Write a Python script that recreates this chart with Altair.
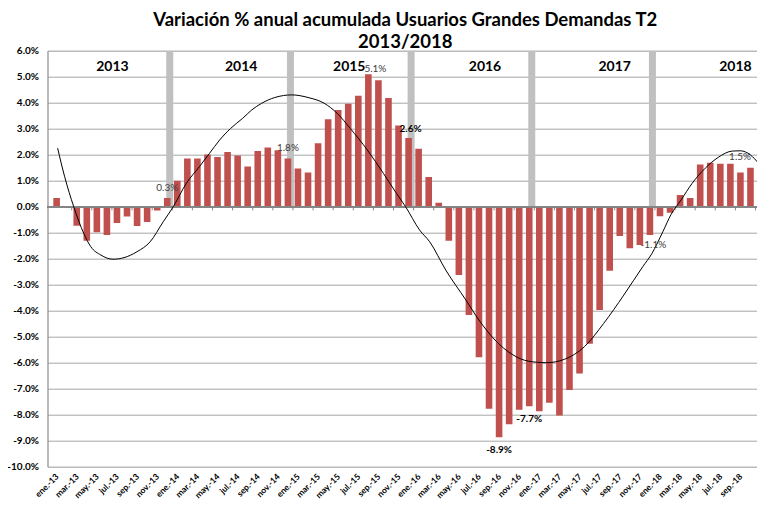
import json
import altair as alt
import pandas as pd

months = ["ene", "feb", "mar", "abr", "may", "jun", "jul", "ago", "sep", "oct", "nov", "dic"]
years = ["13", "14", "15", "16", "17", "18"]
month_labels = [f"{m}.-{y}" for y in years for m in months][:71]

values = [
    0.33, -0.04, -0.73, -1.31, -0.98, -1.09, -0.63, -0.38, -0.74, -0.59, -0.15, 0.33,
    1.00, 1.85, 1.85, 2.01, 1.91, 2.10, 1.97, 1.55, 2.14, 2.28, 2.17, 1.85,
    1.47, 1.32, 2.44, 3.36, 3.72, 3.96, 4.27, 5.09, 4.86, 4.18, 3.12, 2.64,
    2.23, 1.14, 0.15, -1.31, -2.63, -4.17, -5.79, -7.77, -8.87, -8.37, -7.81, -7.68,
    -7.87, -7.54, -8.03, -7.05, -6.42, -5.27, -3.97, -2.46, -1.13, -1.60, -1.47, -1.09,
    -0.37, -0.23, 0.45, 0.33, 1.62, 1.69, 1.65, 1.65, 1.32, 1.50, 1.50,
]

trend_x = [0.1, 0.8, 1.7, 2.7, 3.4, 4.4, 5.6, 6.7, 8.0, 9.3, 10.6, 11.6, 12.9, 14.2,
           15.2, 16.2, 17.3, 18.5, 19.4, 20.4, 21.7, 23.4, 25.0, 26.6, 27.9, 29.2,
           30.9, 32.5, 33.8, 34.7, 36.1, 37.1, 38.7, 40.7, 42.0, 43.6, 45.3, 46.9,
           48.7, 50.5, 52.5, 54.4, 56.4, 58.3, 59.2, 60.3, 61.1, 62.1, 63.2, 64.5,
           65.8, 67.2, 68.0, 69.0, 69.8]
trend_y = [2.25, 1.15, 0.0, -1.03, -1.54, -1.86, -2.02, -1.96, -1.73, -1.35, -0.58, 0.0,
           0.9, 1.54, 2.05, 2.56, 3.01, 3.4, 3.72, 3.98, 4.2, 4.3, 4.2, 3.98, 3.59, 3.01,
           2.18, 1.28, 0.51, 0.0, -0.9, -1.35, -2.44, -3.59, -4.36, -5.13, -5.68, -5.94,
           -6.0, -5.87, -5.38, -4.49, -3.4, -2.3, -1.8, -0.95, -0.3, 0.26, 0.9, 1.48,
           1.9, 2.14, 2.15, 1.99, 1.67]

year_names = ["2013", "2014", "2015", "2016", "2017", "2018"]
year_pos = [5.55, 18.35, 29.1, 42.6, 55.5, 67.5]
year_level = [5.38] * 6

boundary_pos = [11.25, 23.25, 35.25, 47.25, 59.25]
boundary_top = [6.0] * 5

label_idx = [11, 23, 31, 35, 44, 47, 59, 70]
label_text = ["0.3%", "1.8%", "5.1%", "2.6%", "-8.9%", "-7.7%", "-1.1%", "1.5%"]
label_group = ["up", "up", "peak", "upb", "downb", "downb", "down", "end"]

title_lines = ["Variación % anual acumulada Usuarios Grandes Demandas T2", "2013/2018"]

FONT = "Lato"
x_scale = alt.Scale(domain=[-0.41, 69.15], nice=False, zero=False)
y_scale = alt.Scale(domain=[-10, 6], nice=False, zero=False)

df = pd.DataFrame({"i": list(range(len(values))), "v": values, "m": month_labels,
                   "zero": [0.0] * len(values)})
trend_df = pd.DataFrame({"i": trend_x, "v": trend_y})
years_df = pd.DataFrame({"i": year_pos, "v": year_level, "t": year_names})
bound_df = pd.DataFrame({"i": boundary_pos, "v": boundary_top, "base": [0.0] * 5})
lab_df = pd.DataFrame({
    "i": label_idx,
    "v": [values[k] for k in label_idx],
    "t": label_text,
    "g": label_group,
})

x_axis = alt.Axis(
    values=list(range(0, 71, 2)),
    labelExpr=json.dumps(month_labels, ensure_ascii=False) + "[datum.value]",
    labelAngle=-45, labelAlign="right", labelBaseline="middle",
    labelPadding=8, labelFontSize=8.5, labelFontWeight="bold", labelFont=FONT,
    labelColor="#000000", labelOverlap=False, labelFlush=False,
    domain=False, ticks=False, grid=False, title=None,
)
y_axis = alt.Axis(
    values=list(range(-10, 7)),
    labelExpr="(datum.value < 0 ? '-' : '') + format(abs(datum.value), '.1f') + '%'",
    labelFontSize=10, labelFontWeight="bold", labelFont=FONT, labelColor="#000000",
    labelPadding=9, ticks=False, domain=True, domainColor="#868686",
    grid=True, gridColor="#a6a6a6", gridWidth=1, title=None,
)


def X(field):
    return alt.X(field, type="quantitative", scale=x_scale, axis=x_axis, title=None)


def Y(field):
    return alt.Y(field, type="quantitative", scale=y_scale, axis=y_axis, title=None)


bands = alt.Chart(bound_df).mark_bar(size=7, color="#C0C0C0", clip=True).encode(
    x=X("i"), y=Y("v"), y2="base:Q",
)

bars = alt.Chart(df).mark_bar(size=6.6, color="#C0504D", clip=True).encode(
    x=X("i"), y=Y("v"), y2="zero:Q",
)

zero_line = alt.Chart(df).mark_rule(color="#868686", strokeWidth=1).encode(
    y=Y("zero")
)

ticks = (
    alt.Chart(df)
    .transform_filter("datum.i % 2 == 1")
    .transform_calculate(tp="datum.i + 0.5", tb="-0.14")
    .mark_rule(color="#868686", strokeWidth=1, clip=True)
    .encode(x=X("tp"), y=Y("zero"), y2="tb:Q")
)

trend = alt.Chart(trend_df).mark_line(
    color="#000000", strokeWidth=1, interpolate="monotone", clip=True
).encode(x=X("i"), y=Y("v"))

year_text = alt.Chart(years_df).mark_text(
    font=FONT, fontSize=14, fontWeight="bold", color="#000000", baseline="middle"
).encode(x=X("i"), y=Y("v"), text="t:N")


def label_layer(group, dx, dy, weight, color, align="center"):
    return (
        alt.Chart(lab_df)
        .transform_filter(f"datum.g == '{group}'")
        .mark_text(font=FONT, fontSize=10, fontWeight=weight, color=color,
                   baseline="middle", align=align, dx=dx, dy=dy)
        .encode(x=X("i"), y=Y("v"), text="t:N")
    )


labels = [
    label_layer("up", 0, -10.5, "normal", "#404040"),
    label_layer("end", -9.5, -10.5, "normal", "#404040", align="right"),
    label_layer("peak", 7, -5.5, "normal", "#404040"),
    label_layer("upb", 2, -9.5, "bold", "#000000"),
    label_layer("downb", 0, 13, "bold", "#000000"),
    label_layer("down", 3.5, 10, "normal", "#404040"),
]

chart = alt.layer(bands, bars, zero_line, ticks, trend, year_text, *labels).properties(
    width=709.5,
    height=416,
    padding={"left": 39.5, "top": 42.7, "right": 0, "bottom": 38},
    autosize=alt.AutoSizeParams(type="none"),
    title=alt.TitleParams(
        text=title_lines, font=FONT, fontSize=18.5, fontWeight="bold", color="#000000",
        anchor="middle", offset=1, lineHeight=22, dx=3, dy=7,
    ),
).configure_view(stroke=None).configure(background="#ffffff")

chart.save("out.html", embed_options={"renderer": "svg", "actions": False})
